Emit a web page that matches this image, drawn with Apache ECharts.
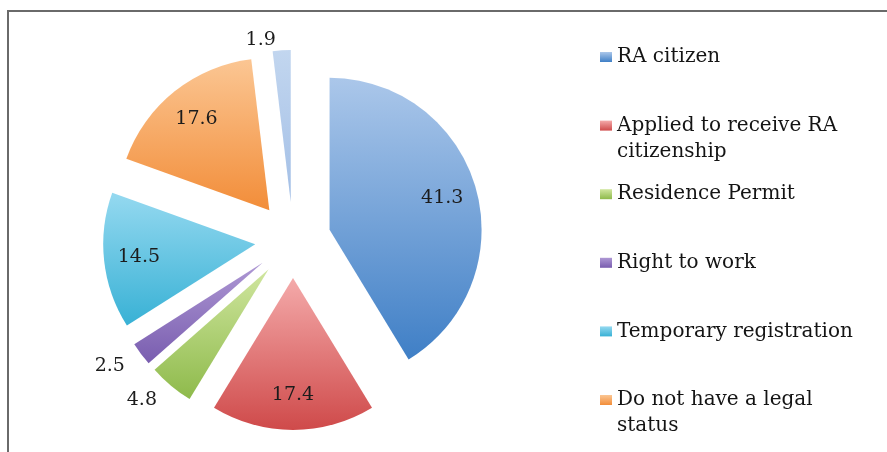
<!DOCTYPE html>
<html>
<head>
<meta charset="utf-8">
<script src="https://cdn.jsdelivr.net/npm/echarts@6/dist/echarts.min.js"></script>
<style>
  html, body { margin: 0; padding: 0; background: #ffffff; }
  #chart { width: 887px; height: 452px; }
</style>
</head>
<body>
<div id="chart"></div>
<script>
// Legal status of respondents, % (slices run clockwise from 12 o'clock)
const categories = [
  'RA citizen',
  'Applied to receive RA citizenship',
  'Residence Permit',
  'Right to work',
  'Temporary registration',
  'Do not have a legal status',
  'Other'
];
const shares = [41.3, 17.4, 4.8, 2.5, 14.5, 17.6, 1.9];
const legendNames = categories.slice(0, 6);

// Gradient fills, lighter at the top of each slice
const palette = [
  ['#abc7ea', '#3f7fc6'],
  ['#f4aaaa', '#cf4a4a'],
  ['#d0e69f', '#8eba4b'],
  ['#ae98d4', '#795daf'],
  ['#95d9f0', '#38b1d5'],
  ['#fbc693', '#f28d39'],
  ['#c2d6ef', '#a3bfe6']
];

const FONT = 'DejaVu Serif';
const R = 152;            // pie radius, px
const EXPLODE = 38;       // distance each slice is pulled out
const CENTER = [293, 240];

// mid-angle of each slice, radians clockwise from 12 o'clock
const total = shares.reduce((a, b) => a + b, 0);
const midAngles = [];
let acc = 0;
shares.forEach(v => {
  midAngles.push((acc + v / 2) / total * Math.PI * 2);
  acc += v;
});

// wrap legend text at about 22 characters
function wrapLines(name) {
  const words = name.split(' ');
  const lines = [];
  let line = '';
  words.forEach(w => {
    const t = line ? line + ' ' + w : w;
    if (t.length > 22 && line) { lines.push(line); line = w; }
    else line = t;
  });
  lines.push(line);
  return lines;
}
// blank lines in front keep the swatch level with the first text line
function legendText(name) {
  const lines = wrapLines(name);
  const pad = new Array(lines.length - 1).fill('');
  return pad.concat(lines).join('\n');
}

const grad = i => new echarts.graphic.LinearGradient(0, 0, 0, 1, [
  { offset: 0, color: palette[i][0] },
  { offset: 1, color: palette[i][1] }
]);

// one legend block per entry, evenly spaced down the right side
const LINE_H = 26;
const legends = legendNames.map((name, i) => {
  const n = wrapLines(name).length;
  const firstLineCenter = 57 + i * 68.6;
  return {
    orient: 'vertical',
    left: 600,
    top: firstLineCenter - (2 * n - 1) * LINE_H / 2,
    padding: 0,
    data: [name],
    icon: 'rect',
    itemWidth: 12,
    itemHeight: 10,
    selectedMode: false,
    formatter: legendText,
    textStyle: {
      fontFamily: FONT,
      fontSize: 20,
      color: '#141414',
      lineHeight: LINE_H
    }
  };
});

const chart = echarts.init(document.getElementById('chart'), null, { renderer: 'canvas' });
chart.setOption({
  backgroundColor: '#ffffff',
  animation: false,
  legend: legends,
  graphic: [{
    type: 'rect',
    silent: true,
    z: -10,
    shape: { x: 8, y: 11, width: 920, height: 480 },
    style: { fill: null, stroke: '#6a6a6a', lineWidth: 2 }
  }],
  series: [{
    type: 'pie',
    center: CENTER,
    radius: R,
    startAngle: 90,
    clockwise: true,
    selectedMode: 'multiple',
    selectedOffset: EXPLODE,
    avoidLabelOverlap: false,
    emphasis: { scale: false },
    label: {
      show: true,
      position: 'inside',
      fontFamily: FONT,
      fontSize: 19,
      color: '#1c1c1c',
      formatter: p => p.value.toFixed(1)
    },
    labelLine: { show: false, length: 6, length2: 0 },
    // push inner labels out toward the rim; nudge the small outer ones
    labelLayout: params => {
      const i = params.dataIndex;
      const a = midAngles[i];
      if (shares[i] < 5) {
        return { dx: Math.sin(a) * 8, dy: -Math.cos(a) * 8 + 4 };
      }
      const s = R * 0.25;
      return { dx: Math.sin(a) * s, dy: -Math.cos(a) * s };
    },
    data: categories.map((name, i) => ({
      name,
      value: shares[i],
      selected: true,
      itemStyle: { color: grad(i) },
      label: shares[i] < 5 ? { position: 'outside' } : {}
    }))
  }]
});
</script>
</body>
</html>
